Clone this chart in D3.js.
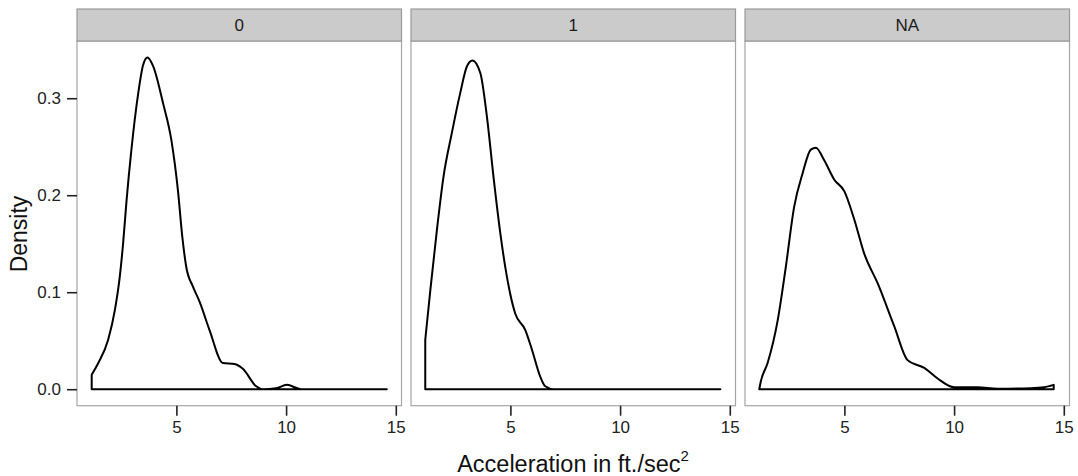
<!DOCTYPE html>
<html>
<head>
<meta charset="utf-8">
<script src="https://cdn.jsdelivr.net/npm/d3@7"></script>
<style>
  body { margin: 0; background: #fff; }
  svg { font-family: "Liberation Sans", Arial, sans-serif; }
</style>
</head>
<body>
<div id="chart"></div>
<script>
// facet labels
const facets = ['0', '1', 'NA'];

// density curves: [acceleration, density]
const density0 = [
  [1.14, 0.015], [1.44, 0.027], [1.89, 0.051], [2.2, 0.082], [2.42, 0.116],
  [2.57, 0.15], [2.73, 0.195], [2.95, 0.247], [3.26, 0.305], [3.48, 0.334],
  [3.68, 0.342], [3.94, 0.333], [4.39, 0.295], [4.77, 0.257], [5.07, 0.205],
  [5.27, 0.157], [5.45, 0.126], [5.75, 0.106], [6.06, 0.09], [6.51, 0.061],
  [7.12, 0.027], [7.65, 0.026], [8.03, 0.021], [8.64, 0.003], [8.94, 0],
  [9.55, 0.001], [10.03, 0.0045], [10.68, 0], [14.59, 0]
];
const density1 = [
  [1.12, 0.051], [1.35, 0.102], [1.65, 0.164], [1.95, 0.219], [2.33, 0.264],
  [2.71, 0.305], [3.02, 0.333], [3.27, 0.339], [3.63, 0.326], [3.93, 0.281],
  [4.23, 0.219], [4.54, 0.161], [4.84, 0.116], [5.22, 0.078], [5.68, 0.061],
  [5.98, 0.041], [6.36, 0.013], [6.59, 0.003], [6.97, 0], [14.57, 0]
];
const densityNA = [
  [1.12, 0], [1.19, 0.008], [1.5, 0.027], [1.96, 0.071], [2.33, 0.126], [2.71, 0.188],
  [3.1, 0.223], [3.47, 0.247], [3.7, 0.249], [4.08, 0.236], [4.54, 0.216],
  [5.0, 0.204], [5.45, 0.175], [5.9, 0.14], [6.52, 0.109], [7.27, 0.065],
  [7.88, 0.03], [8.64, 0.022], [9.25, 0.011], [10.01, 0.002], [11.07, 0.002],
  [11.98, 0.0005], [13.5, 0.001], [14.1, 0.002], [14.54, 0.0045]
];
const curves = [density0, density1, densityNA];

const xTicks = [5, 10, 15];
const yTicks = [0, 0.1, 0.2, 0.3];

const width = 1078, height = 476;
const panelLeft = 77, panelW = 324.5, panelGap = 9.5;
const stripTop = 9, stripH = 32;
const plotTop = stripTop + stripH, plotBottom = 405.7;
const font = '"Liberation Sans", Arial, sans-serif';

const svg = d3.select('#chart').append('svg')
  .attr('width', width)
  .attr('height', height);

const y = d3.scaleLinear()
  .domain([-0.017, 0.359])
  .range([plotBottom, plotTop]);

facets.forEach((name, i) => {
  const x0 = panelLeft + i * (panelW + panelGap);
  const x = d3.scaleLinear()
    .domain([0.47, 15.26])
    .range([x0, x0 + panelW]);

  const g = svg.append('g');

  // panel background + border
  g.append('rect')
    .attr('x', x0).attr('y', plotTop)
    .attr('width', panelW).attr('height', plotBottom - plotTop)
    .attr('fill', '#fff')
    .attr('stroke', '#a6a6a6')
    .attr('stroke-width', 1.2);

  // strip
  g.append('rect')
    .attr('x', x0).attr('y', stripTop)
    .attr('width', panelW).attr('height', stripH)
    .attr('fill', '#cbcbcb')
    .attr('stroke', '#9a9a9a')
    .attr('stroke-width', 1.2);
  g.append('text')
    .attr('x', x0 + panelW / 2)
    .attr('y', stripTop + stripH / 2 + 6)
    .attr('text-anchor', 'middle')
    .attr('font-size', 17)
    .attr('fill', '#1a1a1a')
    .text(name);

  // density polygon (curve, then drop to baseline and back)
  const line = d3.line()
    .x(d => x(d[0]))
    .y(d => y(d[1]))
    .curve(d3.curveMonotoneX);
  const pts = curves[i];
  const first = pts[0], last = pts[pts.length - 1];
  g.append('path')
    .attr('d', line(pts) + `L${x(last[0])},${y(0)}L${x(first[0])},${y(0)}Z`)
    .attr('fill', 'none')
    .attr('stroke', '#000')
    .attr('stroke-width', 2)
    .attr('stroke-linejoin', 'round');

  // x axis
  const xAxis = d3.axisBottom(x)
    .tickValues(xTicks)
    .tickSize(10)
    .tickPadding(5);
  const xg = g.append('g')
    .attr('transform', `translate(0,${plotBottom})`)
    .call(xAxis);
  xg.select('.domain').remove();
  xg.selectAll('line').attr('stroke', '#222').attr('stroke-width', 1.6);
  xg.selectAll('text')
    .attr('font-size', 17)
    .attr('fill', '#222')
    .attr('font-family', font);

  if (i === 0) {
    const yAxis = d3.axisLeft(y)
      .tickValues(yTicks)
      .tickFormat(d3.format('.1f'))
      .tickSize(10)
      .tickPadding(6);
    const yg = g.append('g')
      .attr('transform', `translate(${x0},0)`)
      .call(yAxis);
    yg.select('.domain').remove();
    yg.selectAll('line').attr('stroke', '#222').attr('stroke-width', 1.6);
    yg.selectAll('text')
      .attr('font-size', 17)
      .attr('fill', '#222')
      .attr('font-family', font);
  }
});

// axis titles
svg.append('text')
  .attr('transform', `translate(27,234) rotate(-90)`)
  .attr('text-anchor', 'middle')
  .attr('font-size', 23)
  .attr('fill', '#111')
  .text('Density');

const xt = svg.append('text')
  .attr('x', 573)
  .attr('y', 471.5)
  .attr('text-anchor', 'middle')
  .attr('font-size', 23.5)
  .attr('fill', '#111');
xt.append('tspan').text('Acceleration in ft./sec');
xt.append('tspan').attr('font-size', 15).attr('dy', -11).text('2');
</script>
</body>
</html>
